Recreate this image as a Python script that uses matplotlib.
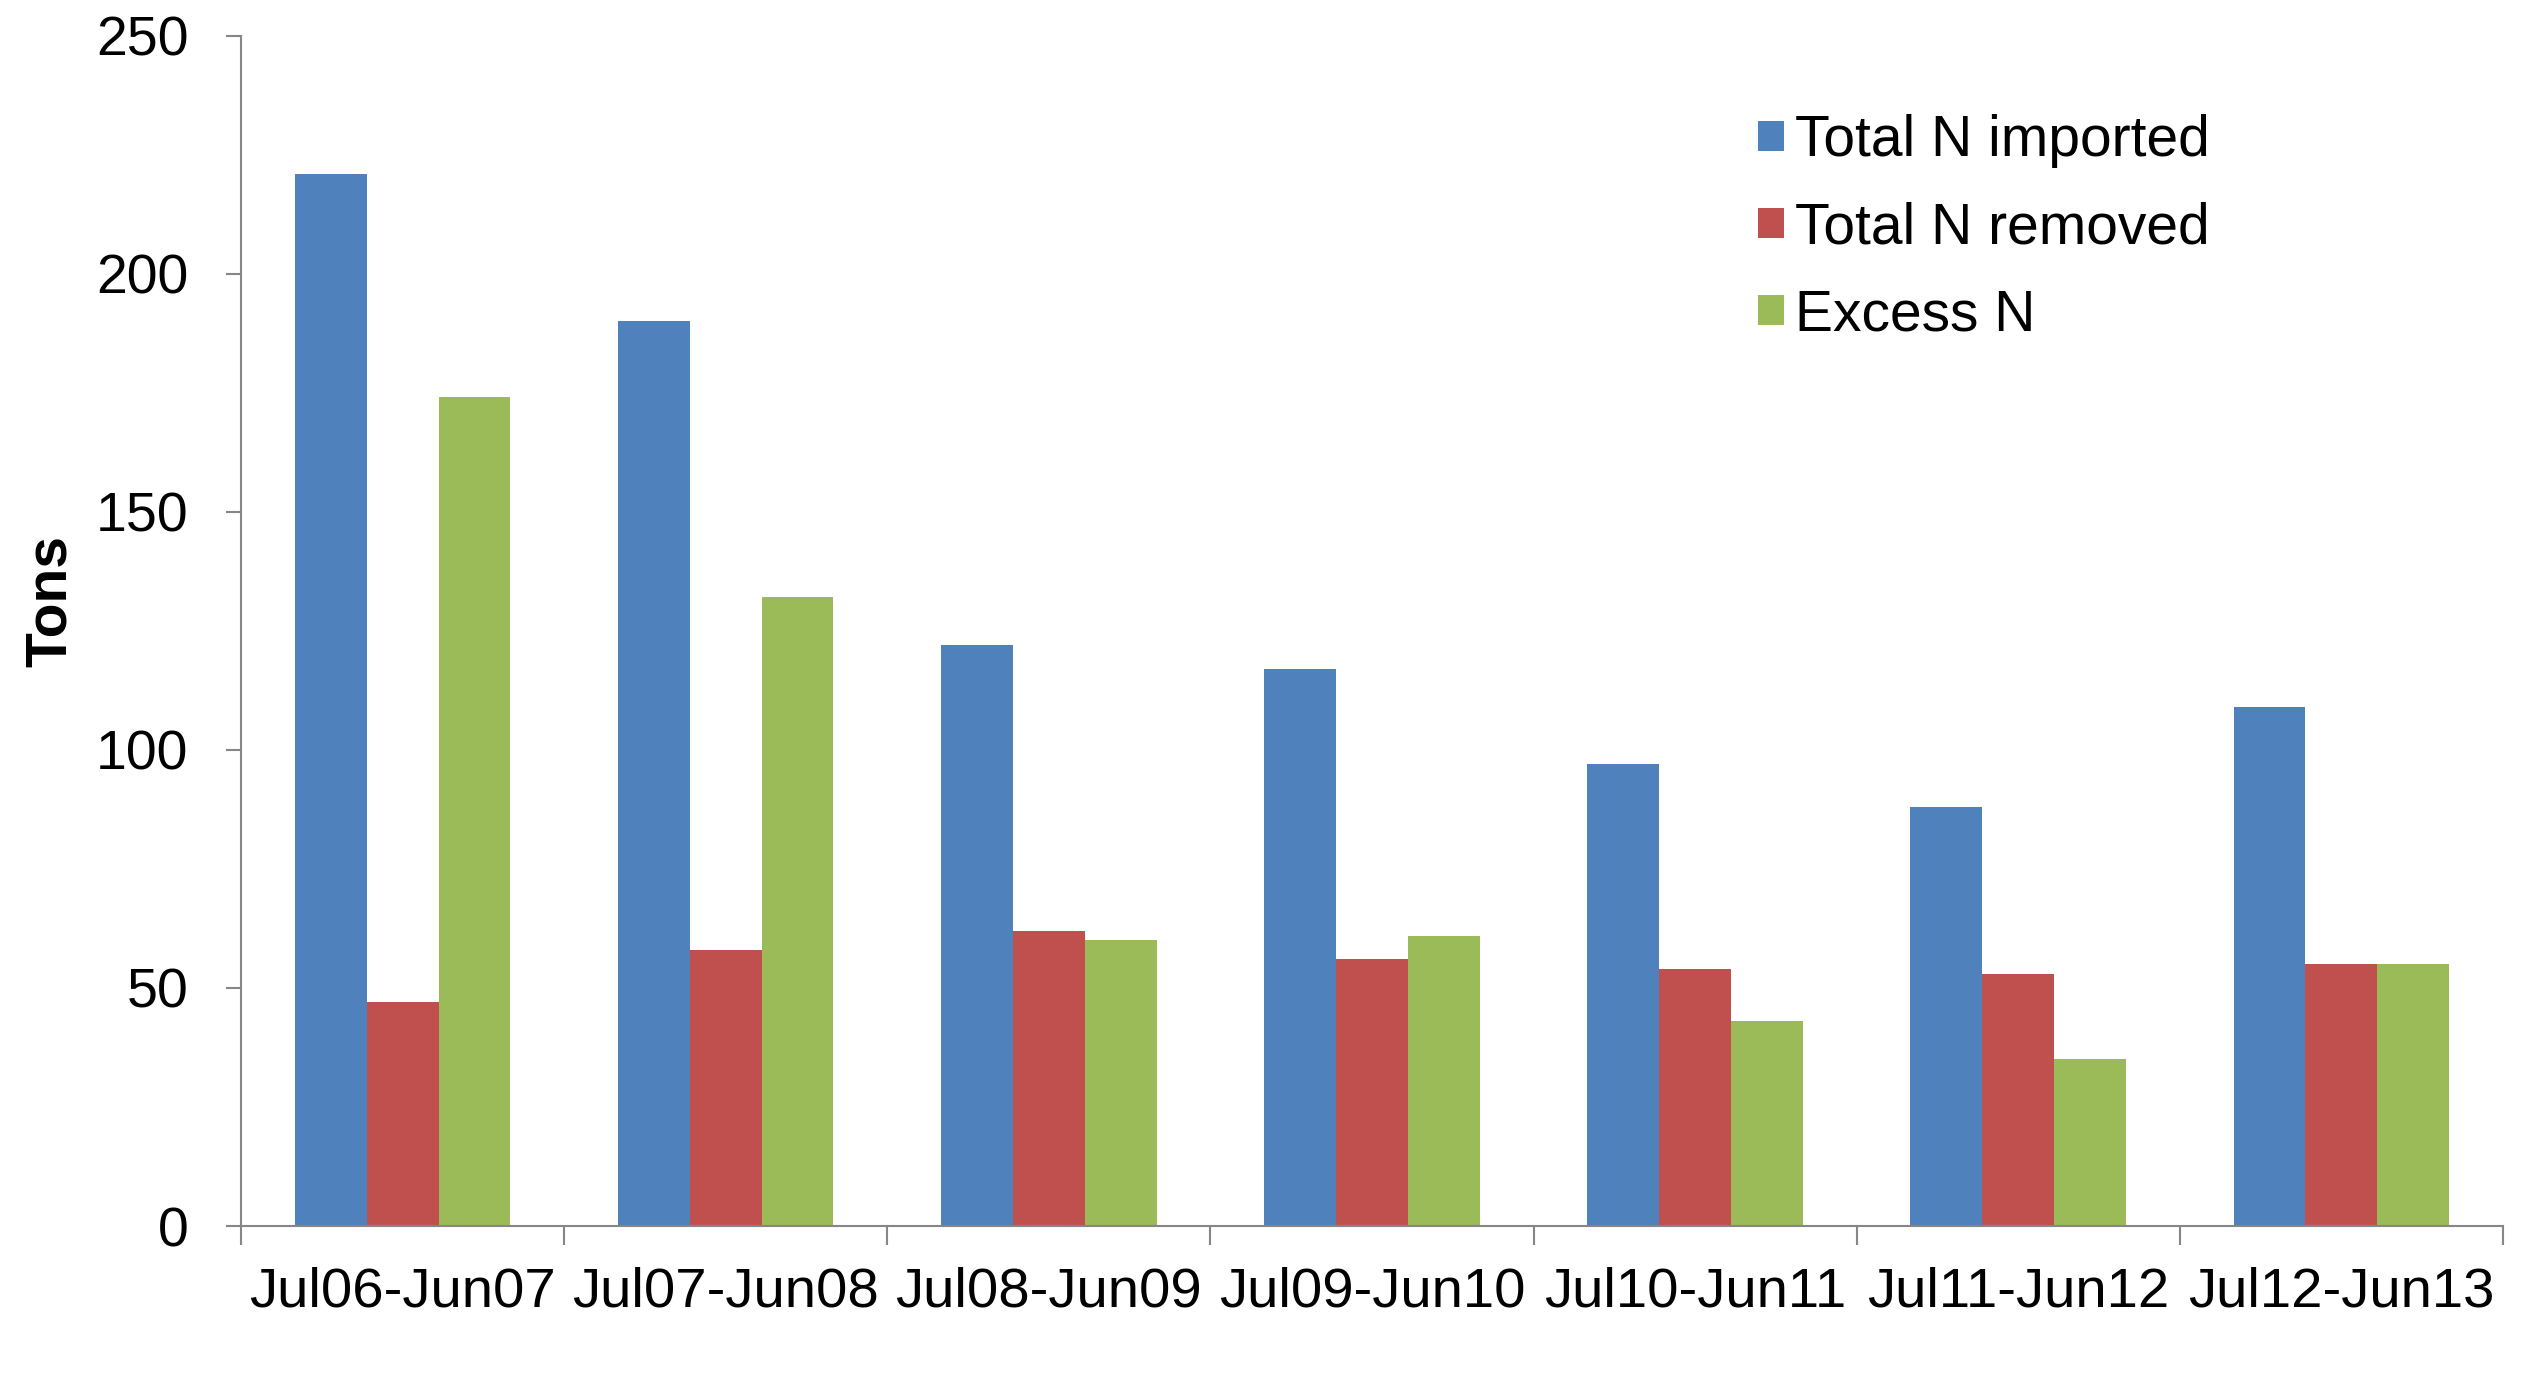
import numpy as np
import matplotlib
matplotlib.use("Agg")
from matplotlib import pyplot as plt

periods = ["Jul06-Jun07", "Jul07-Jun08", "Jul08-Jun09", "Jul09-Jun10",
           "Jul10-Jun11", "Jul11-Jun12", "Jul12-Jun13"]
n_imported = [221, 190, 122, 117, 97, 88, 109]
n_removed = [47, 58, 62, 56, 54, 53, 55]
excess_n = [174, 132, 60, 61, 43, 35, 55]

series_names = ["Total N imported", "Total N removed", "Excess N"]
colors = ["#4F81BD", "#C0504D", "#9BBB59"]

plt.rcParams['font.family'] = ['Liberation Sans', 'DejaVu Sans']

fig = plt.figure(figsize=(25.32, 13.83), dpi=100)
ax = fig.add_axes([0.0952, 0.1135, 0.8933, 0.8608])

x = np.arange(len(periods))
w = 1 / 4.5
for i, (vals, name, c) in enumerate(zip([n_imported, n_removed, excess_n], series_names, colors)):
    ax.bar(x + (i - 1) * w, vals, width=w, color=c, label=name)

ax.set_xlim(-0.5, len(periods) - 0.5)
ax.set_ylim(0, 250)
ax.set_yticks(range(0, 251, 50))

# tick marks between groups, labels at group centres
ax.set_xticks(np.arange(-0.5, len(periods), 1.0))
ax.set_xticklabels([])
ax.set_xticks(x, minor=True)
ax.set_xticklabels(periods, minor=True)
ax.tick_params(axis='x', which='major', length=14, width=1.5, color='#868686', direction='out')
ax.tick_params(axis='x', which='minor', length=0, pad=29, labelsize=40.5)
ax.tick_params(axis='y', length=11, width=1.5, color='#868686', direction='out', pad=27, labelsize=40)

for s in ['top', 'right']:
    ax.spines[s].set_visible(False)
for s in ['left', 'bottom']:
    ax.spines[s].set_color('#868686')
    ax.spines[s].set_linewidth(1.5)

ax.set_ylabel("Tons", fontsize=41, fontweight='bold')
ax.yaxis.set_label_coords(-0.072, 0.525)

ax.legend(loc='upper left', bbox_to_anchor=(0.648, 0.977), frameon=False, fontsize=41,
          handlelength=0.45, handleheight=0.45, handletextpad=0.2, labelspacing=0.58)

fig.savefig("out.png", dpi=100)
